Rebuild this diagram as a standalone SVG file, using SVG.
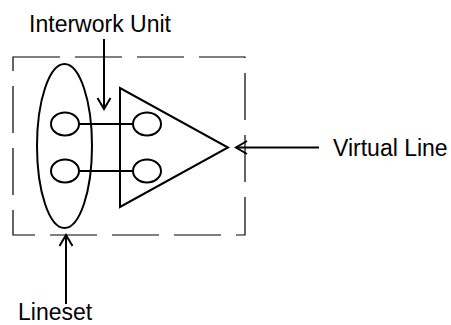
<svg xmlns="http://www.w3.org/2000/svg" width="451" height="325" viewBox="0 0 451 325">
  <style>
    .shape { fill: none; stroke: #000; stroke-width: 2; }
    .boundary { fill: none; stroke: #000; stroke-width: 1.2; stroke-dasharray: 47 15; }
    .link { stroke: #000; stroke-width: 2; fill: none; }
    .label { font-family: "Liberation Sans", Arial, sans-serif; font-size: 23px; fill: #000; }
  </style>
  <defs>
    <marker id="open-arrow" markerUnits="userSpaceOnUse" markerWidth="16" markerHeight="16" viewBox="0 0 16 16" refX="14" refY="8" orient="auto">
      <path d="M3,1.5 L14,8 L3,14.5" fill="none" stroke="#000" stroke-width="2"/>
    </marker>
  </defs>

  <rect fill="#fff" x="0" y="0" width="451" height="325"/>

  <!-- dashed system boundary -->
  <g id="boundary">
    <rect class="boundary" x="13" y="57" width="232" height="178"/>
  </g>

  <!-- lineset: tall ellipse holding the two line ends -->
  <g id="lineset">
    <ellipse class="shape" cx="64.5" cy="146" rx="27.5" ry="82"/>
    <ellipse class="shape" cx="65" cy="124" rx="14" ry="11.5"/>
    <ellipse class="shape" cx="65" cy="171" rx="14" ry="11.5"/>
  </g>

  <!-- interwork unit: triangle with its two ports -->
  <g id="interwork-unit">
    <polygon class="shape" points="120,88 120,207 228,147.5"/>
    <ellipse class="shape" cx="147" cy="124" rx="14" ry="11.5"/>
    <ellipse class="shape" cx="147" cy="171" rx="14" ry="11.5"/>
  </g>

  <!-- connectors -->
  <g id="connectors">
    <line class="link" x1="79" y1="124" x2="133" y2="124"/>
    <line class="link" x1="79" y1="171" x2="133" y2="171"/>
    <line class="link" x1="104" y1="39" x2="104" y2="109" marker-end="url(#open-arrow)"/>
    <line class="link" x1="319" y1="147.5" x2="236" y2="147.5" marker-end="url(#open-arrow)"/>
    <line class="link" x1="66" y1="304" x2="66" y2="235" marker-end="url(#open-arrow)"/>
  </g>

  <!-- labels -->
  <g id="labels">
    <text class="label" x="100" y="32" text-anchor="middle">Interwork Unit</text>
    <text class="label" x="333" y="156">Virtual Line</text>
    <text class="label" x="18" y="320">Lineset</text>
  </g>
</svg>
